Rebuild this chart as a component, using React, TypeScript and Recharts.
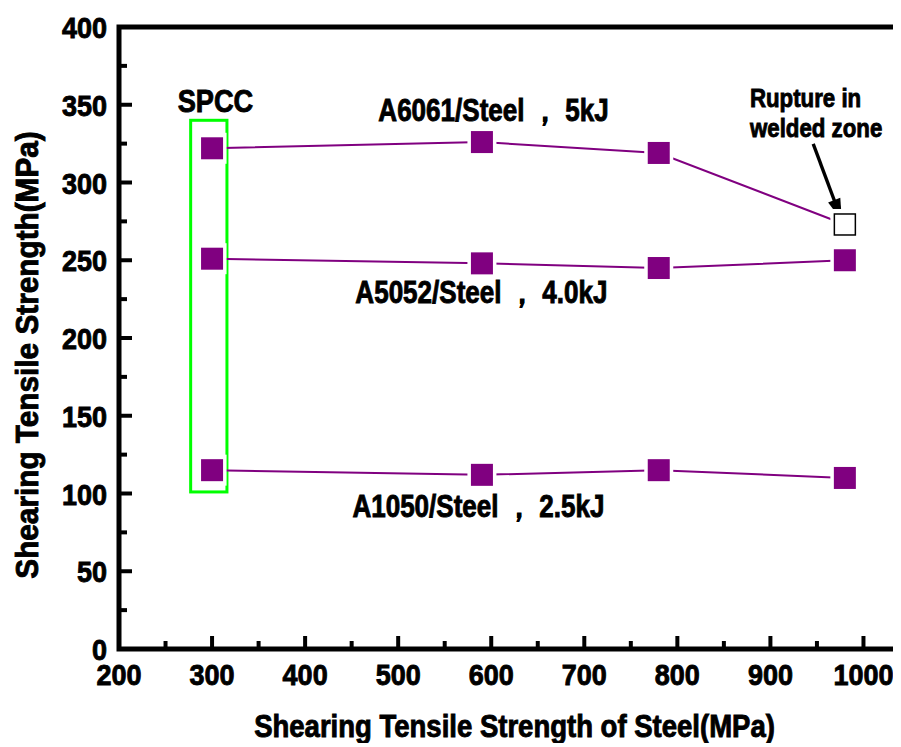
import React from 'react';
import {
  ScatterChart,
  Scatter,
  XAxis,
  YAxis,
  ReferenceArea,
  ReferenceDot,
  ReferenceLine,
} from 'recharts';

// ---------- data ----------
const steelStrength = [300, 590, 780, 980];
const a6061Strength = [322, 326, 319, 273];
const a5052Strength = [251, 248, 245, 250];
const a1050Strength = [115, 112, 115, 110];
const a6061Rupture = [false, false, false, true];

const xTicks = [200, 250, 300, 350, 400, 450, 500, 550, 600, 650, 700, 750, 800, 850, 900, 950, 1000, 1050];
const xTickLabels = ['200', '300', '400', '500', '600', '700', '800', '900', '1000'];
const yTicks = [0, 25, 50, 75, 100, 125, 150, 175, 200, 225, 250, 275, 300, 325, 350, 375, 400];
const yTickLabels = ['0', '50', '100', '150', '200', '250', '300', '350', '400'];

const makeSeries = (vals: number[], rupture?: boolean[]) =>
  steelStrength.map((x, i) => ({ x, y: vals[i], rupture: rupture ? rupture[i] : false }));

const s6061 = makeSeries(a6061Strength, a6061Rupture);
const s5052 = makeSeries(a5052Strength);
const s1050 = makeSeries(a1050Strength);

// ---------- style ----------
const FONT = '"Liberation Sans", Arial, Helvetica, sans-serif';
const PURPLE = '#800080';

const SText = ({ x, y, size, sx, anchor = 'start', rotate = 0, children }: any) => (
  <text
    transform={`translate(${x},${y}) rotate(${rotate}) scale(${sx},1)`}
    x={0}
    y={0}
    fontFamily={FONT}
    fontWeight="bold"
    fontSize={size}
    textAnchor={anchor}
    fill="#000"
    stroke="#000"
    strokeWidth={0.9}
  >
    {children}
  </text>
);

const tickStyle = { stroke: '#000', strokeWidth: 4 };

const BottomTick = (props: any) => {
  const { x, y, payload } = props;
  const v = payload.value;
  const major = v % 100 === 0;
  const lbl = xTickLabels.includes(String(v));
  return (
    <g>
      <line x1={x} y1={y} x2={x} y2={y - (major ? 13 : 8)} style={tickStyle} />
      {lbl && (
        <SText x={x} y={y + 36} size={30} sx={0.9} anchor="middle">
          {String(v)}
        </SText>
      )}
    </g>
  );
};

const TopTick = (props: any) => {
  const { x, y, payload } = props;
  const major = payload.value % 100 === 0;
  return <line x1={x} y1={y} x2={x} y2={y + (major ? 13 : 8)} style={tickStyle} />;
};

const LeftTick = (props: any) => {
  const { x, y, payload } = props;
  const v = payload.value;
  const major = v % 50 === 0;
  const lbl = yTickLabels.includes(String(v));
  return (
    <g>
      <line x1={x} y1={y} x2={x + (major ? 13 : 8)} y2={y} style={tickStyle} />
      {lbl && (
        <SText x={x - 12} y={y + 11} size={30} sx={0.9} anchor="end">
          {String(v)}
        </SText>
      )}
    </g>
  );
};

const RightTick = (props: any) => {
  const { x, y, payload } = props;
  const major = payload.value % 50 === 0;
  return <line x1={x} y1={y} x2={x - (major ? 13 : 8)} y2={y} style={tickStyle} />;
};

const SquareMarker = (props: any) => {
  const { cx, cy, payload } = props;
  if (cx == null || cy == null) return null;
  const open = payload && payload.rupture;
  const s = open ? 21 : 22;
  return (
    <g>
      <rect x={cx - 14.5} y={cy - 15.5} width={29} height={31} fill="#fff" />
      {open ? (
        <rect x={cx - s / 2} y={cy - s / 2} width={s} height={s} fill="#fff" stroke="#000" strokeWidth={1.5} />
      ) : (
        <rect x={cx - s / 2} y={cy - s / 2} width={s} height={s} fill={PURPLE} />
      )}
    </g>
  );
};

const Anno = (props: any) => {
  const { viewBox, text, size, sx, anchor } = props;
  if (!viewBox) return null;
  return (
    <SText x={viewBox.x} y={viewBox.y} size={size} sx={sx} anchor={anchor}>
      {text}
    </SText>
  );
};

const XLabel = (props: any) => {
  const { viewBox } = props;
  return (
    <SText x={viewBox.x + viewBox.width / 2} y={viewBox.y + 88} size={31} sx={0.888} anchor="middle">
      Shearing Tensile Strength of Steel(MPa)
    </SText>
  );
};

const YLabel = (props: any) => {
  const { viewBox } = props;
  return (
    <SText x={30} y={viewBox.y + viewBox.height / 2 + 17} size={31} sx={0.96} anchor="middle" rotate={-90}>
      Shearing Tensile Strength(MPa)
    </SText>
  );
};

const Arrow = (props: any) => {
  const { x1, y1, x2, y2 } = props;
  const dx = x2 - x1;
  const dy = y2 - y1;
  const len = Math.sqrt(dx * dx + dy * dy) || 1;
  const ux = dx / len;
  const uy = dy / len;
  const hl = 22;
  const hw = 6.5;
  const bx = x2 - ux * hl;
  const by = y2 - uy * hl;
  const px = -uy;
  const py = ux;
  return (
    <g>
      <line x1={x1} y1={y1} x2={bx + ux * 2} y2={by + uy * 2} style={{ stroke: '#000', strokeWidth: 3.4 }} />
      <polygon
        points={`${x2},${y2} ${bx + px * hw},${by + py * hw} ${bx - px * hw},${by - py * hw}`}
        fill="#000"
      />
    </g>
  );
};

const Frame = (props: any) => {
  const { x, y, width, height } = props;
  return (
    <rect x={x} y={y} width={width} height={height} fill="none" style={{ stroke: '#000', strokeWidth: 5 }} />
  );
};

const GreenBox = (props: any) => {
  const { x, y, width, height } = props;
  return (
    <rect x={x} y={y} width={width} height={height} fill="none" style={{ stroke: '#00ff00', strokeWidth: 3 }} />
  );
};

export default function App() {
  return (
    <div style={{ width: 893, height: 735, overflow: 'hidden' }}>
      <ScatterChart width={910} height={735} margin={{ top: 19, right: 8, bottom: 0, left: 0 }}>
        <XAxis
          xAxisId={0}
          type="number"
          dataKey="x"
          domain={[200, 1050]}
          allowDataOverflow
          ticks={xTicks}
          interval={0}
          tickSize={0}
          tickMargin={0}
          tick={<BottomTick />}
          tickLine={false}
          axisLine={false}
          height={94}
          label={<XLabel />}
        />
        <XAxis
          xAxisId="top"
          orientation="top"
          type="number"
          domain={[200, 1050]}
          allowDataOverflow
          ticks={xTicks}
          interval={0}
          tickSize={0}
          tickMargin={0}
          tick={<TopTick />}
          tickLine={false}
          axisLine={false}
          height={0}
        />
        <YAxis
          yAxisId={0}
          type="number"
          dataKey="y"
          domain={[0, 400]}
          allowDataOverflow
          ticks={yTicks}
          interval={0}
          tickSize={0}
          tickMargin={0}
          tick={<LeftTick />}
          tickLine={false}
          axisLine={false}
          width={111}
          label={<YLabel />}
        />
        <YAxis
          yAxisId="right"
          orientation="right"
          type="number"
          domain={[0, 400]}
          allowDataOverflow
          ticks={yTicks}
          interval={0}
          tickSize={0}
          tickMargin={0}
          tick={<RightTick />}
          tickLine={false}
          axisLine={false}
          width={0}
        />

        <ReferenceArea
          x1={200}
          x2={1050}
          y1={0}
          y2={400}
          ifOverflow="visible"
          shape={<Frame />}
        />

        <Scatter
          name="A6061/Steel"
          data={s6061}
          line={{ stroke: PURPLE, strokeWidth: 2 }}
          shape={<SquareMarker />}
          isAnimationActive={false}
        />
        <Scatter
          name="A5052/Steel"
          data={s5052}
          line={{ stroke: PURPLE, strokeWidth: 2 }}
          shape={<SquareMarker />}
          isAnimationActive={false}
        />
        <Scatter
          name="A1050/Steel"
          data={s1050}
          line={{ stroke: PURPLE, strokeWidth: 2 }}
          shape={<SquareMarker />}
          isAnimationActive={false}
        />

        <ReferenceArea
          x1={277}
          x2={316}
          y1={101}
          y2={340}
          ifOverflow="visible"
          shape={<GreenBox />}
        />

        <ReferenceLine
          segment={[
            { x: 946, y: 324.8 },
            { x: 976.8, y: 275.4 },
          ]}
          shape={<Arrow />}
          ifOverflow="visible"
        />

        <ReferenceDot x={303.6} y={345.3} r={0} ifOverflow="visible"
          label={<Anno text="SPCC" size={32} sx={0.85} anchor="middle" />} />
        <ReferenceDot x={478.7} y={339.5} r={0} ifOverflow="visible"
          label={<Anno text="A6061/Steel ， 5kJ" size={31} sx={0.84} anchor="start" />} />
        <ReferenceDot x={454} y={222.5} r={0} ifOverflow="visible"
          label={<Anno text="A5052/Steel ， 4.0kJ" size={31} sx={0.84} anchor="start" />} />
        <ReferenceDot x={450.8} y={84.9} r={0} ifOverflow="visible"
          label={<Anno text="A1050/Steel ， 2.5kJ" size={31} sx={0.84} anchor="start" />} />
        <ReferenceDot x={878} y={348.6} r={0} ifOverflow="visible"
          label={<Anno text="Rupture in" size={26.5} sx={0.84} anchor="start" />} />
        <ReferenceDot x={878} y={329.3} r={0} ifOverflow="visible"
          label={<Anno text="welded zone" size={26.5} sx={0.84} anchor="start" />} />
      </ScatterChart>
    </div>
  );
}
